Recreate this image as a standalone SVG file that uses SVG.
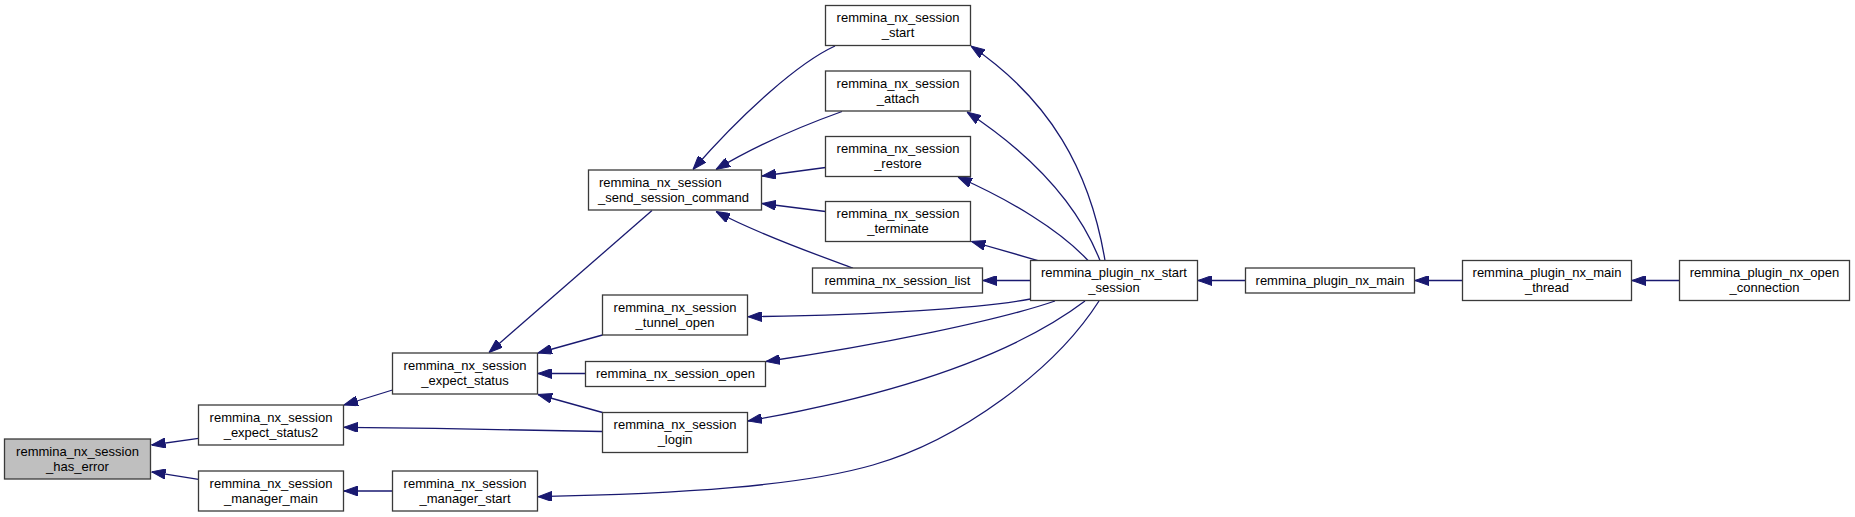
<svg xmlns="http://www.w3.org/2000/svg" width="1855" height="517" viewBox="0 0 1855 517">
<style>
.n rect{fill:#ffffff;stroke:#3a3a3a;stroke-width:1.3}
.n.hl rect{fill:#bfbfbf}
.n text{font-family:"Liberation Sans",Arial,sans-serif;font-size:13px;fill:#000;text-anchor:middle}
.n text.l{text-anchor:start}
#edges path{fill:none;stroke:#191970;stroke-width:1.3;marker-end:url(#ah)}
</style>
<defs>
<marker id="ah" markerUnits="userSpaceOnUse" markerWidth="14" markerHeight="10" refX="14" refY="5" orient="auto" viewBox="0 0 14 10">
<path d="M0,0 L14,5 L0,10 z" fill="#191970" stroke="#191970" stroke-width="1"/>
</marker>
</defs>
<rect width="1855" height="517" fill="#ffffff"/>
<g id="edges">
<path d="M198.5,438.3 L151.5,445"/>
<path d="M198.5,479.3 L151.5,471.8"/>
<path d="M392.5,390 L344,405"/>
<path d="M602.5,431.5 C520,430 430,428 344,427.3"/>
<path d="M392.5,491 L344,491"/>
<path d="M1099,301 C1055,370 960,440 873,465 C800,486 680,494 538,496.7"/>
<path d="M652,210.5 L489,352.5"/>
<path d="M602.5,335 L538,353"/>
<path d="M585.5,373.5 L538,373.5"/>
<path d="M602.5,412.5 L538,394.5"/>
<path d="M835,46 C800,62 745,110 693,169.5"/>
<path d="M842,111.5 C810,123 760,143 716,169.5"/>
<path d="M825.5,167.5 L762,176"/>
<path d="M825.5,211.5 L762,203.5"/>
<path d="M853,268 C820,256 760,235 716,211.5"/>
<path d="M1105,260.5 C1090,170 1050,100 971,46"/>
<path d="M1100,260.5 C1080,210 1040,160 967,112"/>
<path d="M1088,260.5 C1060,230 1010,200 958,177"/>
<path d="M1038,260.5 L971.5,241.5"/>
<path d="M1030.5,280.5 L983,280.5"/>
<path d="M1030.5,299 C980,308 880,315 748,316.7"/>
<path d="M1055,301 C1000,320 880,345 766,361.5"/>
<path d="M1085,301 C1040,335 950,385 748,421"/>
<path d="M1245.5,280.5 L1198,280.5"/>
<path d="M1462.5,280.5 L1415,280.5"/>
<path d="M1679.5,280.5 L1632,280.5"/>
</g>
<g id="has_error" class="n hl"><rect x="4.5" y="439" width="146" height="40"/><text x="77.5" y="455.7">remmina_nx_session</text><text x="77.5" y="470.5">_has_error</text></g>
<g id="expect_status2" class="n"><rect x="198.5" y="405" width="145" height="40"/><text x="271" y="421.7">remmina_nx_session</text><text x="271" y="436.5">_expect_status2</text></g>
<g id="manager_main" class="n"><rect x="198.5" y="471" width="145" height="40"/><text x="271" y="487.7">remmina_nx_session</text><text x="271" y="502.5">_manager_main</text></g>
<g id="expect_status" class="n"><rect x="392.5" y="353" width="145" height="41"/><text x="465" y="369.7">remmina_nx_session</text><text x="465" y="384.5">_expect_status</text></g>
<g id="manager_start" class="n"><rect x="392.5" y="471" width="145" height="40"/><text x="465" y="487.7">remmina_nx_session</text><text x="465" y="502.5">_manager_start</text></g>
<g id="send_session_command" class="n"><rect x="588.5" y="170" width="173" height="40"/><text class="l" x="599" y="186.7">remmina_nx_session</text><text class="l" x="598" y="201.5">_send_session_command</text></g>
<g id="tunnel_open" class="n"><rect x="602.5" y="295" width="145" height="40"/><text x="675" y="311.7">remmina_nx_session</text><text x="675" y="326.5">_tunnel_open</text></g>
<g id="session_open" class="n"><rect x="585.5" y="361.5" width="180" height="25"/><text x="675.5" y="378">remmina_nx_session_open</text></g>
<g id="login" class="n"><rect x="602.5" y="412.5" width="145" height="40"/><text x="675" y="429.2">remmina_nx_session</text><text x="675" y="444">_login</text></g>
<g id="start" class="n"><rect x="825.5" y="5.5" width="145" height="40"/><text x="898" y="22.2">remmina_nx_session</text><text x="898" y="37">_start</text></g>
<g id="attach" class="n"><rect x="825.5" y="71" width="145" height="40"/><text x="898" y="87.7">remmina_nx_session</text><text x="898" y="102.5">_attach</text></g>
<g id="restore" class="n"><rect x="825.5" y="136.5" width="145" height="40"/><text x="898" y="153.2">remmina_nx_session</text><text x="898" y="168">_restore</text></g>
<g id="terminate" class="n"><rect x="825.5" y="201.5" width="145" height="40"/><text x="898" y="218.2">remmina_nx_session</text><text x="898" y="233">_terminate</text></g>
<g id="session_list" class="n"><rect x="812.5" y="268" width="170" height="25"/><text x="897.5" y="284.5">remmina_nx_session_list</text></g>
<g id="start_session" class="n"><rect x="1030.5" y="260.5" width="167" height="40"/><text x="1114" y="277.2">remmina_plugin_nx_start</text><text x="1114" y="292">_session</text></g>
<g id="nx_main" class="n"><rect x="1245.5" y="268" width="169" height="25"/><text x="1330" y="284.5">remmina_plugin_nx_main</text></g>
<g id="main_thread" class="n"><rect x="1462.5" y="260.5" width="169" height="40"/><text x="1547" y="277.2">remmina_plugin_nx_main</text><text x="1547" y="292">_thread</text></g>
<g id="open_connection" class="n"><rect x="1679.5" y="260.5" width="170" height="40"/><text x="1764.5" y="277.2">remmina_plugin_nx_open</text><text x="1764.5" y="292">_connection</text></g>
</svg>
